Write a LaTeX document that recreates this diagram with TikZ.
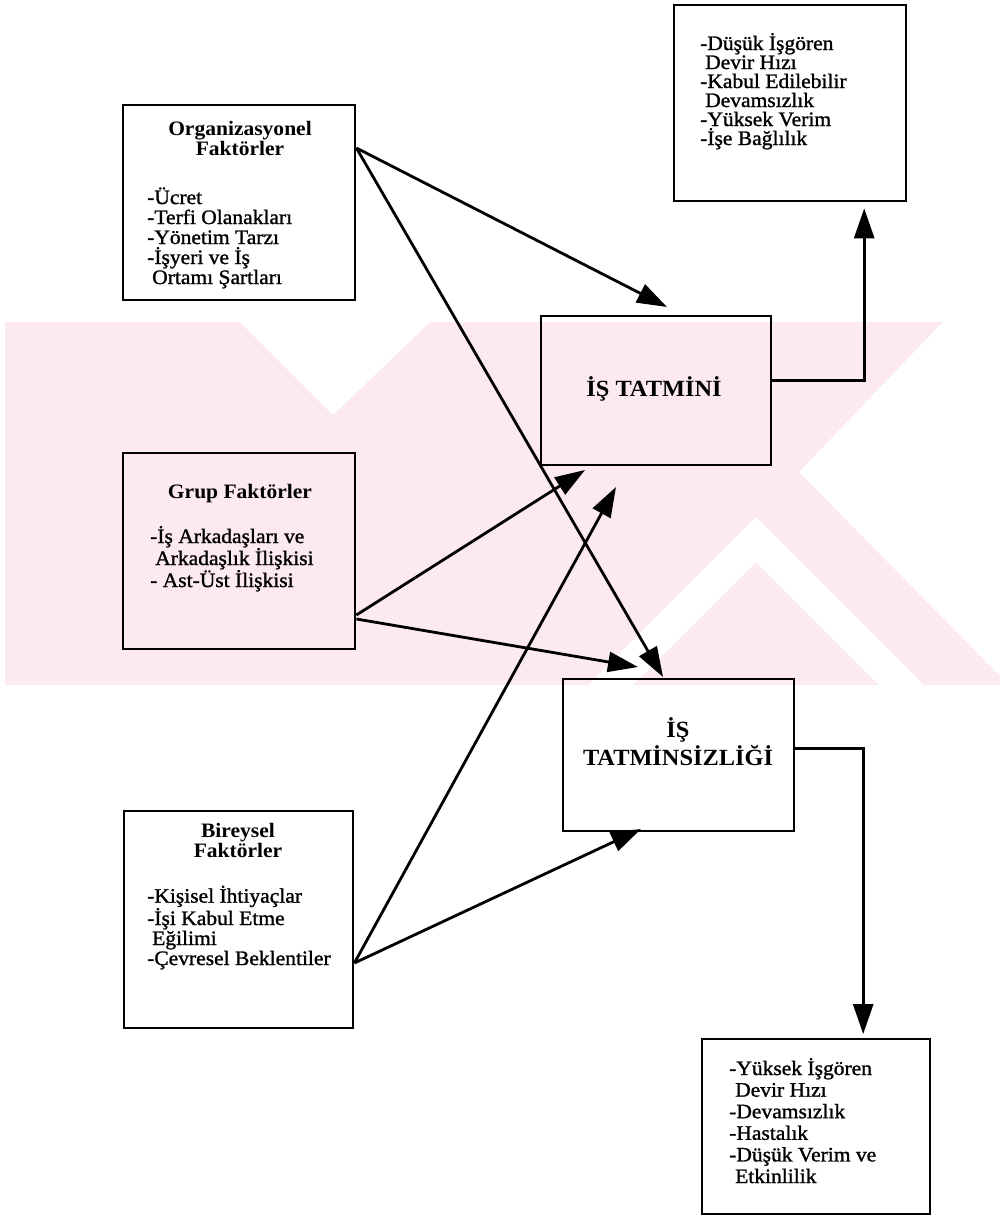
\documentclass[tikz,border=0pt]{standalone}
\usepackage{fontspec}
\setmainfont{Liberation Serif}[FakeStretch=1.05]
\newfontfamily\itemf{Liberation Serif}[FakeStretch=1.05, FakeBold=1.2]
\usetikzlibrary{arrows.meta,calc}
\definecolor{wmpink}{RGB}{252,234,238}
\begin{document}
\begin{tikzpicture}[x=1pt,y=-1pt,
  box/.style={draw, line width=2.4pt, anchor=north west, inner sep=0pt},
  conn/.style={line width=2.8pt, -{Triangle[length=30pt,width=20pt]}},
  itm/.style={anchor=base west, align=left, inner sep=0pt, font=\itemf\fontsize{20.5}{20}\selectfont},
  ttl/.style={anchor=base, align=center, inner sep=0pt, font=\bfseries\fontsize{20.5}{18}\selectfont},
  big/.style={anchor=base, align=center, inner sep=0pt, font=\bfseries\fontsize{23.2}{28}\selectfont}]
\useasboundingbox (0,0) rectangle (1004,1216);

% background stamp
\fill[wmpink] (5,322) rectangle (1000,685);
\fill[white] (240,322) -- (430,322) -- (333,415) -- cycle;
\fill[white] (943,322) -- (1004,322) -- (1004,680) -- (799,472) -- cycle;
\fill[white] (756,517) -- (925,686) -- (880,686) -- (756,562) -- (632,686) -- (587,686) -- cycle;

% boxes
\node[box, minimum width=232pt, minimum height=195pt] (org)  at (122,104) {};
\node[box, minimum width=232pt, minimum height=196pt] (grup) at (122,452) {};
\node[box, minimum width=229pt, minimum height=217pt] (bir)  at (123,810) {};
\node[box, minimum width=230pt, minimum height=149pt] (tat)  at (540,315) {};
\node[box, minimum width=231pt, minimum height=152pt] (tsiz) at (562,678) {};
\node[box, minimum width=232pt, minimum height=196pt] (out1) at (673,4) {};
\node[box, minimum width=228pt, minimum height=175pt] (out2) at (701,1038) {};

% box texts (anchored at the baseline of their last line)
\node[ttl] (orgT) at (240,155) {Organizasyonel\\Faktörler};
\node[itm] (orgI) at (147,284) {-Ücret\\-Terfi Olanakları\\-Yönetim Tarzı\\-İşyeri ve İş\\\hspace*{5pt}Ortamı Şartları};
\node[ttl] (grupT) at (240,498) {Grup Faktörler};
\node[itm, font=\itemf\fontsize{20.5}{22}\selectfont] (grupI) at (150,587) {-İş Arkadaşları ve\\\hspace*{5pt}Arkadaşlık İlişkisi\\- Ast-Üst İlişkisi};
\node[ttl, font=\bfseries\fontsize{20.5}{20}\selectfont] (birT) at (238,857) {Bireysel\\Faktörler};
\node[itm] (birI) at (147,965) {-Kişisel İhtiyaçlar\\-İşi Kabul Etme\\\hspace*{5pt}Eğilimi\\-Çevresel Beklentiler};
\node[big] (tatT) at (654,396) {İŞ TATMİNİ};
\node[big] (tsizT) at (678,765) {İŞ\\TATMİNSİZLİĞİ};
\node[itm, font=\itemf\fontsize{20.5}{19}\selectfont] (out1I) at (700,145) {-Düşük İşgören\\\hspace*{5pt}Devir Hızı\\-Kabul Edilebilir\\\hspace*{5pt}Devamsızlık\\-Yüksek Verim\\-İşe Bağlılık};
\node[itm, font=\itemf\fontsize{20.5}{21.6}\selectfont] (out2I) at (729,1183) {-Yüksek İşgören\\\hspace*{6pt}Devir Hızı\\-Devamsızlık\\-Hastalık\\-Düşük Verim ve\\\hspace*{6pt}Etkinlilik};

% arrow targets
\coordinate (t1) at (667,307);
\coordinate (t2) at (663,677);
\coordinate (t3) at (585,470);
\coordinate (t4) at (638,667);
\coordinate (t5) at (616,487);
\coordinate (t6) at (641,829);

% connectors
\draw[conn] ([yshift=-44pt]org.north east) -- (t1);
\draw[conn] ([yshift=-44pt]org.north east) -- (t2);
\draw[conn] ([yshift=-163pt]grup.north east) -- (t3);
\draw[conn] ([yshift=-167pt]grup.north east) -- (t4);
\draw[conn] ([yshift=-153pt]bir.north east) -- (t5);
\draw[conn] ([yshift=-153pt]bir.north east) -- (t6);
\draw[conn] ([yshift=10pt]tat.east) -| ([xshift=74pt,yshift=-6pt]out1.south);
\draw[conn] ([yshift=7pt]tsiz.east) -| ([xshift=47pt,yshift=4pt]out2.north);
\end{tikzpicture}
\end{document}
